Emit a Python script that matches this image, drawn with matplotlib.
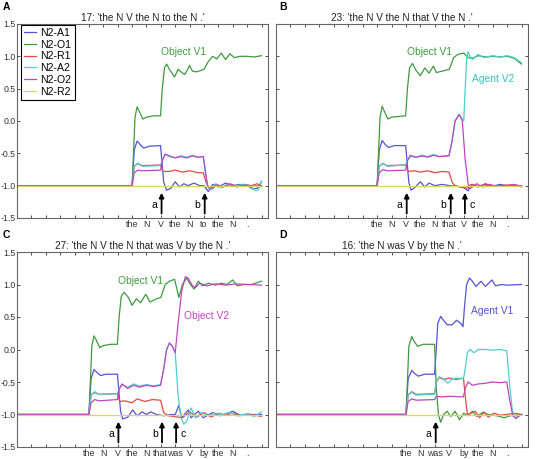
import matplotlib
matplotlib.use("Agg")
import matplotlib.pyplot as plt

plt.rcParams['font.family'] = ['Liberation Sans', 'DejaVu Sans']

# word positions (time in word units) and sentence words per panel
A_words = ["the", "N", "V", "the", "N", "to", "the", "N", "."]
B_words = ["the", "N", "V", "the", "N", "that", "V", "the", "N", "."]
C_words = ["the", "N", "V", "the", "N", "that", "was", "V", "by", "the", "N", "."]
D_words = ["the", "N", "was", "V", "by", "the", "N", "."]
A_start, B_start, C_start, D_start = 8, 7, 5, 9

titles = ["17: 'the N V the N to the N .'",
          "23: 'the N V the N that V the N .'",
          "27: 'the N V the N that was V by the N .'",
          "16: 'the N was V by the N .'"]

series_names = ["N2-A1", "N2-O1", "N2-R1", "N2-A2", "N2-O2", "N2-R2"]
series_colors = ["#5454d6", "#3f9a3f", "#e24848", "#4ccfcf", "#c244c2", "#d6d66a"]

R2 = [(0, -1), (17, -1)]

# ---- panel A ----
A_A1 = [(0,-1),(8,-1),(8.15,-0.45),(8.35,-0.31),(8.55,-0.36),(8.8,-0.42),(9.2,-0.39),(9.98,-0.38),
        (10.2,-0.95),(10.4,-1.07),(10.7,-1.04),(11.0,-0.94),(11.3,-1.02),(11.6,-0.97),(11.9,-1.0),
        (12.3,-0.96),(12.7,-1.0),(13.0,-1.0),(13.3,-1.09),(13.6,-0.98),(14.0,-1.02),(14.5,-0.96),
        (15.0,-1.0),(15.5,-0.98),(16.0,-1.0),(16.4,-1.05),(16.7,-1.04),(17.0,-0.94)]
A_O1 = [(0,-1),(8,-1),(8.1,-0.5),(8.2,0.05),(8.35,0.22),(8.5,0.15),(8.75,0.03),(9.0,0.06),(9.5,0.08),
        (9.98,0.08),(10.1,0.5),(10.25,0.82),(10.4,0.88),(10.6,0.8),(10.95,0.68),(11.2,0.8),(11.4,0.76),
        (11.65,0.72),(11.8,0.77),(12.0,0.86),(12.2,0.77),(12.5,0.76),(13.0,0.8),(13.3,0.92),(13.6,1.0),
        (13.9,0.96),(14.2,1.05),(14.5,0.95),(14.8,1.04),(15.1,0.98),(15.5,1.0),(16.0,1.0),(16.5,0.99),(17.0,1.01)]
A_R1 = [(0,-1),(8,-1),(8.15,-0.7),(8.4,-0.66),(8.7,-0.69),(9.98,-0.68),(10.15,-0.78),(10.6,-0.78),
        (11.0,-0.76),(11.5,-0.79),(12.0,-0.77),(12.6,-0.8),(12.95,-0.8),(13.15,-0.95),(13.35,-1.04),
        (13.6,-1.05),(13.9,-0.98),(14.3,-1.02),(14.8,-0.97),(15.3,-1.01),(15.8,-0.98),(16.3,-1.0),
        (16.7,-0.97),(17.0,-1.01)]
A_A2 = [(0,-1),(8,-1),(8.15,-0.7),(8.4,-0.65),(8.7,-0.7),(9.98,-0.69),(10.1,-0.6),(10.3,-0.52),
        (10.6,-0.55),(11.0,-0.57),(11.4,-0.54),(11.8,-0.56),(12.2,-0.53),(12.6,-0.56),(12.95,-0.55),
        (13.1,-0.8),(13.25,-1.02),(13.5,-1.06),(13.8,-0.97),(14.2,-1.03),(14.7,-0.98),(15.2,-1.01),
        (15.7,-0.98),(16.2,-1.0),(16.6,-1.08),(16.8,-1.06),(17.0,-0.93)]
A_O2 = [(0,-1),(8,-1),(8.15,-0.8),(8.4,-0.76),(8.7,-0.77),(9.98,-0.76),(10.1,-0.62),(10.3,-0.51),
        (10.6,-0.54),(11.0,-0.57),(11.4,-0.55),(11.8,-0.57),(12.2,-0.54),(12.6,-0.56),(12.95,-0.55),
        (13.1,-0.78),(13.25,-1.0),(13.5,-1.04),(13.8,-0.99),(14.3,-1.02),(14.8,-0.98),(15.3,-1.02),
        (15.8,-0.99),(16.3,-1.01),(17.0,-1.0)]

# ---- panel B ----
B_A1 = [(0,-1),(7,-1),(7.15,-0.45),(7.35,-0.3),(7.55,-0.36),(7.8,-0.41),(8.2,-0.38),(8.98,-0.38),
        (9.2,-0.95),(9.35,-1.07),(9.6,-1.03),(10.0,-0.94),(10.3,-1.02),(10.6,-0.96),(11.0,-1.0),
        (11.5,-0.98),(12.0,-1.0),(12.5,-1.01),(13.0,-1.03),(13.3,-1.08),(13.6,-0.98),(14.0,-1.02),
        (14.5,-0.97),(15.0,-1.01),(15.5,-0.98),(16.0,-1.0),(16.5,-0.99),(17.0,-1.01)]
B_O1 = [(0,-1),(7,-1),(7.1,-0.5),(7.2,0.05),(7.35,0.23),(7.5,0.15),(7.75,0.03),(8.0,0.06),(8.5,0.07),
        (8.98,0.08),(9.1,0.5),(9.25,0.82),(9.45,0.89),(9.7,0.78),(10.0,0.7),(10.3,0.82),(10.6,0.74),
        (10.9,0.85),(11.1,0.75),(11.5,0.77),(12.0,0.8),(12.3,0.98),(12.6,1.03),(13.0,1.05),(13.3,0.98),
        (13.6,0.97),(14.0,1.01),(14.5,0.99),(15.0,1.0),(15.5,0.99),(16.0,1.0),(16.5,0.97),(17.0,0.88)]
B_R1 = [(0,-1),(7,-1),(7.15,-0.7),(7.4,-0.66),(7.7,-0.69),(8.98,-0.68),(9.15,-0.78),(9.6,-0.77),
        (10.0,-0.79),(10.5,-0.77),(11.0,-0.8),(11.5,-0.78),(11.98,-0.79),(12.2,-0.95),(12.4,-1.0),
        (12.8,-1.02),(13.2,-1.04),(13.5,-0.98),(14.0,-1.01),(14.5,-0.98),(15.0,-1.01),(16.0,-0.99),(17.0,-1.0)]
B_A2 = [(0,-1),(7,-1),(7.15,-0.7),(7.4,-0.65),(7.7,-0.7),(8.98,-0.68),(9.1,-0.6),(9.3,-0.55),
        (9.7,-0.56),(10.1,-0.53),(10.5,-0.55),(10.9,-0.52),(11.3,-0.55),(11.98,-0.53),(12.2,-0.3),
        (12.4,0.0),(12.65,0.1),(12.85,0.05),(13.0,0.0),(13.1,0.5),(13.2,0.95),(13.3,1.07),(13.45,0.99),
        (13.6,0.95),(14.0,1.03),(14.4,0.98),(15.0,1.01),(15.5,0.99),(16.0,1.01),(16.5,0.98),(17.0,0.9)]
B_O2 = [(0,-1),(7,-1),(7.15,-0.8),(7.4,-0.75),(7.7,-0.77),(8.98,-0.76),(9.1,-0.62),(9.3,-0.53),
        (9.7,-0.56),(10.1,-0.54),(10.5,-0.56),(10.9,-0.53),(11.3,-0.55),(11.98,-0.54),(12.2,-0.3),
        (12.4,0.0),(12.7,0.1),(12.9,0.0),(13.1,-0.6),(13.35,-1.05),(13.6,-1.02),(13.9,-0.97),
        (14.3,-1.02),(14.8,-0.98),(15.3,-1.01),(16.0,-1.0),(16.5,-0.98),(17.0,-1.02)]

# ---- panel C ----
C_A1 = [(0,-1),(5,-1),(5.15,-0.45),(5.35,-0.31),(5.55,-0.35),(5.8,-0.4),(6.2,-0.38),(6.98,-0.38),
        (7.2,-0.95),(7.35,-1.07),(7.7,-1.04),(8.05,-0.93),(8.35,-1.02),(8.7,-0.96),(9.0,-1.0),
        (9.3,-0.96),(9.7,-1.0),(10.2,-1.02),(10.7,-1.0),(11.0,-1.0),(11.25,-0.86),(11.45,-1.05),
        (11.9,-0.93),(12.1,-1.05),(12.6,-0.95),(12.95,-1.05),(13.6,-0.97),(14.1,-1.02),(15.0,-0.95),
        (15.5,-1.01),(16.0,-1.0),(17.0,-1.0)]
C_O1 = [(0,-1),(5,-1),(5.1,-0.5),(5.2,0.05),(5.35,0.21),(5.5,0.15),(5.75,0.03),(6.0,0.06),(6.5,0.08),
        (6.98,0.08),(7.1,0.5),(7.25,0.82),(7.45,0.88),(7.75,0.8),(8.0,0.68),(8.3,0.78),(8.6,0.72),
        (8.95,0.85),(9.25,0.73),(9.7,0.78),(10.0,0.8),(10.3,1.0),(10.6,1.05),(10.95,1.08),(11.1,0.95),
        (11.25,0.8),(11.5,1.0),(11.8,1.1),(12.0,1.02),(12.3,0.93),(12.6,1.05),(12.9,0.98),(13.3,1.02),
        (13.8,0.99),(14.2,1.02),(14.6,1.0),(15.0,1.07),(15.3,0.98),(15.8,1.0),(16.3,1.0),(17.0,1.05)]
C_R1 = [(0,-1),(5,-1),(5.15,-0.7),(5.4,-0.66),(5.7,-0.69),(6.98,-0.68),(7.15,-0.8),(7.5,-0.79),
        (8.0,-0.82),(8.35,-0.76),(8.9,-0.8),(9.4,-0.77),(9.98,-0.78),(10.2,-0.97),(10.5,-1.02),
        (10.9,-1.03),(11.5,-1.05),(12.0,-0.96),(12.5,-1.04),(13.0,-0.97),(13.5,-1.04),(14.0,-0.98),
        (14.5,-1.01),(15.0,-0.98),(15.5,-1.02),(16.0,-0.99),(17.0,-1.03)]
C_A2 = [(0,-1),(5,-1),(5.15,-0.7),(5.4,-0.65),(5.7,-0.69),(6.98,-0.68),(7.1,-0.6),(7.3,-0.54),
        (7.7,-0.58),(8.1,-0.53),(8.5,-0.56),(9.0,-0.54),(9.5,-0.56),(9.98,-0.54),(10.2,-0.3),
        (10.4,0.0),(10.6,0.1),(10.8,0.05),(11.0,-0.05),(11.2,-0.7),(11.4,-1.05),(11.6,-1.15),
        (11.8,-1.1),(12.1,-0.9),(12.4,-1.05),(12.8,-0.97),(13.3,-1.02),(13.8,-0.98),(14.3,-1.0),
        (14.8,-0.97),(15.3,-1.02),(16.0,-1.0),(16.5,-1.03),(17.0,-0.96)]
C_O2 = [(0,-1),(5,-1),(5.15,-0.82),(5.4,-0.77),(5.7,-0.79),(6.98,-0.77),(7.1,-0.62),(7.3,-0.53),
        (7.7,-0.6),(8.1,-0.55),(8.5,-0.58),(9.0,-0.55),(9.5,-0.57),(9.98,-0.55),(10.2,-0.3),(10.4,0.0),
        (10.6,0.1),(10.8,0.05),(11.0,-0.05),(11.2,0.4),(11.45,0.9),(11.7,1.12),(11.9,1.1),(12.2,0.98),
        (12.4,0.95),(12.7,1.02),(13.2,0.98),(13.8,1.01),(14.5,0.99),(15.2,1.01),(16.0,1.0),(17.0,0.99)]

# ---- panel D ----
D_A1 = [(0,-1),(9,-1),(9.15,-0.45),(9.4,-0.32),(9.6,-0.37),(9.85,-0.41),(10.3,-0.38),(10.98,-0.38),
        (11.1,0.0),(11.2,0.4),(11.4,0.51),(11.6,0.45),(11.85,0.38),(12.2,0.38),(12.5,0.45),(12.8,0.4),
        (12.95,0.35),(13.05,0.65),(13.2,1.0),(13.4,1.1),(13.6,1.05),(13.85,0.97),(14.2,1.05),(14.5,0.97),
        (14.95,1.07),(15.2,0.98),(15.6,1.0),(16.0,0.99),(17.0,1.0)]
D_O1 = [(0,-1),(9,-1),(9.1,-0.5),(9.2,0.05),(9.4,0.2),(9.55,0.13),(9.8,0.05),(10.2,0.08),(10.98,0.08),
        (11.1,-0.6),(11.25,-1.0),(11.4,-1.12),(11.6,-1.0),(11.85,-0.95),(12.1,-1.03),(12.4,-0.95),
        (12.7,-1.08),(13.0,-0.98),(13.3,-1.02),(13.6,-0.95),(13.9,-1.03),(14.3,-0.97),(14.7,-1.0),
        (15.3,-1.02),(15.8,-1.05),(16.2,-1.02),(17.0,-1.0)]
D_R1 = [(0,-1),(9,-1),(9.15,-0.7),(9.4,-0.65),(9.7,-0.69),(10.98,-0.68),(11.1,-0.5),(11.3,-0.43),
        (11.6,-0.46),(12.0,-0.44),(12.5,-0.46),(12.98,-0.44),(13.1,-0.7),(13.25,-1.0),(13.5,-0.98),
        (13.8,-0.95),(14.1,-1.05),(14.4,-0.96),(14.7,-1.04),(15.1,-0.98),(15.5,-1.01),(16.0,-1.0),
        (16.5,-0.98),(17.0,-1.0)]
D_A2 = [(0,-1),(9,-1),(9.15,-0.7),(9.4,-0.66),(9.7,-0.7),(10.98,-0.69),(11.1,-0.5),(11.3,-0.42),
        (11.6,-0.45),(11.9,-0.52),(12.2,-0.45),(12.5,-0.44),(12.98,-0.45),(13.1,-0.3),(13.25,-0.05),
        (13.45,0.0),(13.7,-0.05),(14.0,0.0),(14.5,0.0),(15.0,-0.01),(15.5,0.0),(15.98,-0.02),
        (16.2,-0.6),(16.4,-1.0),(16.6,-1.07),(17.0,-1.0)]
D_O2 = [(0,-1),(9,-1),(9.15,-0.8),(9.4,-0.76),(9.7,-0.78),(10.98,-0.77),(11.1,-0.72),(11.5,-0.73),
        (12.0,-0.72),(12.98,-0.73),(13.1,-0.6),(13.3,-0.5),(13.6,-0.55),(14.0,-0.53),(14.5,-0.52),
        (15.0,-0.5),(15.5,-0.51),(15.98,-0.5),(16.2,-0.8),(16.4,-1.02),(16.6,-1.05),(17.0,-1.0)]

# arrows: (x, label, side)
A_arrows = [(10.05, "a", -1), (13.05, "b", -1)]
B_arrows = [(9.05, "a", -1), (12.1, "b", -1), (13.08, "c", 1)]
C_arrows = [(7.05, "a", -1), (10.08, "b", -1), (11.06, "c", 1)]
D_arrows = [(11.06, "a", -1)]

# curve annotations: (x, y, text, color index)
A_notes = [(10.0, 1.07, "Object V1", 1)]
B_notes = [(9.1, 1.07, "Object V1", 1), (13.6, 0.65, "Agent V2", 3)]
C_notes = [(7.05, 1.05, "Object V1", 1), (11.6, 0.51, "Object V2", 4)]
D_notes = [(13.5, 0.59, "Agent V1", 0)]

panels = [
    ("A", A_words, A_start, [A_A1, A_O1, A_R1, A_A2, A_O2, R2], A_arrows, A_notes),
    ("B", B_words, B_start, [B_A1, B_O1, B_R1, B_A2, B_O2, R2], B_arrows, B_notes),
    ("C", C_words, C_start, [C_A1, C_O1, C_R1, C_A2, C_O2, R2], C_arrows, C_notes),
    ("D", D_words, D_start, [D_A1, D_O1, D_R1, D_A2, D_O2, R2], D_arrows, D_notes),
]

W, H = 537, 459
fig = plt.figure(figsize=(W / 100, H / 100), dpi=100)

boxes = [(17, 24, 268, 218), (276, 24, 528, 218), (17, 252, 268, 447), (276, 252, 528, 447)]

for i, (letter, words, start, curves, arrows, notes) in enumerate(panels):
    x0, y0, x1, y1 = boxes[i]
    ax = fig.add_axes([x0 / W, 1 - y1 / H, (x1 - x0) / W, (y1 - y0) / H])

    # yellow first so the others lie on top of it
    order = [5, 2, 3, 4, 0, 1]
    for j in order:
        xs = [p[0] for p in curves[j]]
        ys = [p[1] for p in curves[j]]
        ax.plot(xs, ys, color=series_colors[j], lw=0.9, label=series_names[j], zorder=2 + j * 0.1)

    ax.set_xlim(0, 17.45)
    ax.set_ylim(-1.5, 1.5)
    ax.set_xticks(range(0, 18))
    labels = [""] * 18
    for k, w in enumerate(words):
        labels[start + k] = w
    ax.set_xticklabels(labels, fontsize=6.4)
    ax.set_yticks([-1.5, -1.0, -0.5, 0.0, 0.5, 1.0, 1.5])
    if i in (0, 2):
        ax.set_yticklabels(["-1.5", "-1.0", "-0.5", "0.0", "0.5", "1.0", "1.5"], fontsize=6.3)
    else:
        ax.set_yticklabels([])
    ax.tick_params(direction="in", top=True, right=True, length=2.5, width=0.6,
                   pad=1.2, colors="#333333")
    for s in ax.spines.values():
        s.set_color("#666666")
        s.set_linewidth(0.8)

    ax.set_title(titles[i], fontsize=7.2, pad=2.5, color="#222222")

    for (ax_x, lab, side) in arrows:
        ax.annotate("", xy=(ax_x, -1.11), xytext=(ax_x, -1.43),
                    arrowprops=dict(arrowstyle="-|>", color="black", lw=1.3,
                                    mutation_scale=7, shrinkA=0, shrinkB=0))
        ax.text(ax_x + side * 0.5, -1.3, lab, fontsize=7.5, ha="center", va="center")

    for (nx, ny, txt, ci) in notes:
        ax.text(nx, ny, txt, color=series_colors[ci] if ci != 3 else "#33c0c0",
                fontsize=7.4, ha="left", va="center")

    if i == 0:
        handles, labs = ax.get_legend_handles_labels()
        hmap = dict(zip(labs, handles))
        leg = ax.legend([hmap[n] for n in series_names], series_names, loc="upper left",
                        bbox_to_anchor=(0.016, 0.997), borderaxespad=0, fontsize=7.6,
                        handlelength=1.1, handletextpad=0.45, labelspacing=0.17,
                        borderpad=0.3, fancybox=False, framealpha=1)
        leg.get_frame().set_edgecolor("black")
        leg.get_frame().set_linewidth(0.8)

    fig.text((x0 - 14) / W if i in (0, 2) else (x0 + 3) / W, 1 - (y0 - 17) / H, letter,
             fontsize=7.5, fontweight="bold", ha="left", va="center")

fig.savefig("out.png", dpi=100)
